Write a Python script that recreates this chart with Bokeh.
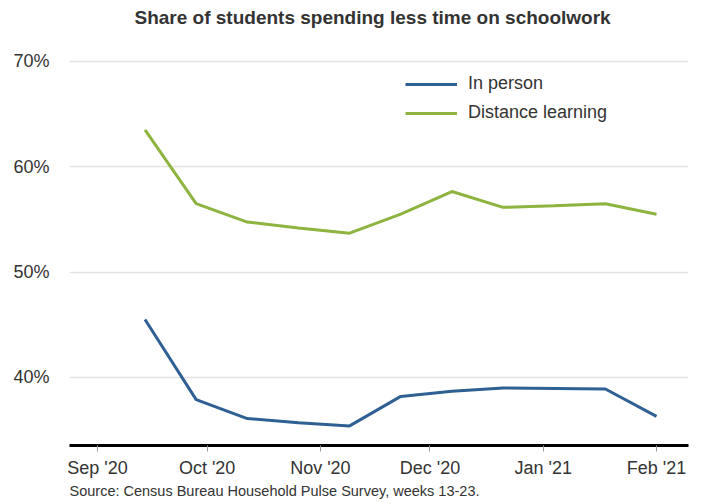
from datetime import datetime
from bokeh.plotting import figure
from bokeh.models import (Range1d, FixedTicker, DatetimeTickFormatter, PrintfTickFormatter,
                          Legend, LegendItem, Title, ColumnDataSource)
from bokeh.embed import file_html
from bokeh.resources import INLINE

# ---- data ----
dates = ["2020-09-14", "2020-09-28", "2020-10-12", "2020-10-26", "2020-11-09", "2020-11-23",
         "2020-12-07", "2020-12-21", "2021-01-04", "2021-01-18", "2021-02-01"]
in_person = [45.5, 37.9, 36.1, 35.7, 35.4, 38.2, 38.7, 39.0, 38.95, 38.9, 36.3]
distance = [63.5, 56.5, 54.75, 54.2, 53.7, 55.5, 57.65, 56.15, 56.3, 56.5, 55.5]
month_ticks = ["2020-09-01", "2020-10-01", "2020-11-01", "2020-12-01", "2021-01-01", "2021-02-01"]
y_ticks = [40, 50, 60, 70]

BLUE = "#2E6093"
GREEN = "#8CB43F"
FONT = "Liberation Sans"

def ms(s):
    return datetime.strptime(s, "%Y-%m-%d %H:%M" if " " in s else "%Y-%m-%d").timestamp() * 1000.0

xs = [datetime.strptime(d, "%Y-%m-%d") for d in dates]
src = ColumnDataSource(dict(x=xs, ip=in_person, dl=distance))

p = figure(frame_width=619, frame_height=413, x_axis_type="datetime", output_backend="svg",
           toolbar_location=None,
           x_range=Range1d(ms("2020-08-24 08:00"), ms("2021-02-09 18:00")),
           y_range=Range1d(33.54, 72.75),
           min_border_left=69, min_border_right=2, min_border_top=32, min_border_bottom=57)

p.title.text = "Share of students spending less time on schoolwork"
p.title.align = "left"
p.title.text_font = FONT
p.title.text_font_size = "19px"
p.title.text_font_style = "bold"
p.title.text_color = "#333333"
p.title.offset = 65
p.title.standoff = 9

p.outline_line_color = None
p.background_fill_color = "white"

l1 = p.line("x", "ip", source=src, line_color=BLUE, line_width=3)
l2 = p.line("x", "dl", source=src, line_color=GREEN, line_width=3)

# x axis
xa = p.xaxis[0]
xa.ticker = FixedTicker(ticks=[ms(t) for t in month_ticks])
xa.formatter = DatetimeTickFormatter(months="%b '%y", days="%b '%y", years="%b '%y")
xa.axis_line_color = "black"
xa.axis_line_width = 3
xa.major_tick_line_color = "#999999"
xa.major_tick_in = 0
xa.major_tick_out = 6
xa.minor_tick_line_color = None
xa.major_label_text_font = FONT
xa.major_label_text_font_size = "18px"
xa.major_label_text_color = "#333333"
xa.major_label_standoff = 6

# y axis
ya = p.yaxis[0]
ya.ticker = FixedTicker(ticks=y_ticks)
ya.formatter = PrintfTickFormatter(format="%d%%")
ya.axis_line_color = None
ya.major_tick_line_color = None
ya.minor_tick_line_color = None
ya.major_label_text_font = FONT
ya.major_label_text_font_size = "18px"
ya.major_label_text_color = "#333333"
ya.major_label_standoff = 14

p.xgrid.grid_line_color = None
p.ygrid.grid_line_color = "#E3E3E3"
p.ygrid.grid_line_width = 1.5

legend = Legend(items=[LegendItem(label="In person", renderers=[l1]),
                       LegendItem(label="Distance learning", renderers=[l2])],
                location=(336, 322), border_line_color=None, background_fill_alpha=0,
                padding=0, margin=0, spacing=8, glyph_width=52, glyph_height=20,
                label_height=20, label_standoff=11,
                label_text_font=FONT, label_text_font_size="18px", label_text_color="#333333")
p.add_layout(legend)

src_title = Title(text="Source: Census Bureau Household Pulse Survey, weeks 13-23.", align="left",
                  text_font=FONT, text_font_size="14.5px", text_font_style="normal",
                  text_color="#333333", offset=0, standoff=0)
p.add_layout(src_title, "below")

open("out.html", "w").write(file_html(p, INLINE))
